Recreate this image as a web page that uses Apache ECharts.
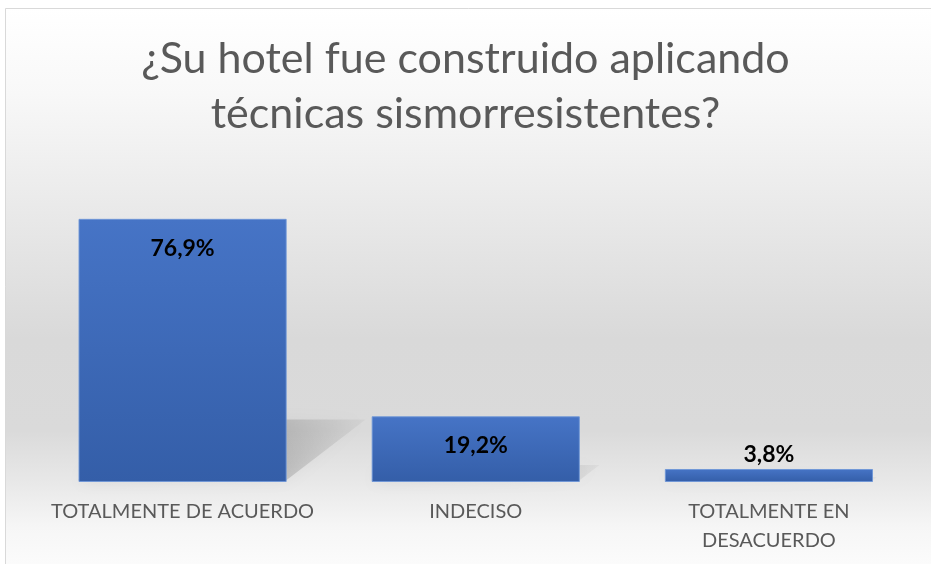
<!DOCTYPE html>
<html>
<head>
<meta charset="utf-8">
<script src="https://cdn.jsdelivr.net/npm/echarts@6/dist/echarts.min.js"></script>
<style>
  html, body { margin: 0; padding: 0; background: #fff; }
  #main { width: 931px; height: 564px; }
</style>
</head>
<body>
<div id="main"></div>
<script>
// data
var categories = ['TOTALMENTE DE ACUERDO', 'INDECISO', 'TOTALMENTE EN\nDESACUERDO'];
var values = [76.9, 19.2, 3.8];
var titleText = '¿Su hotel fue construido aplicando\ntécnicas sismorresistentes?';

var font = 'Lato, "Open Sans", sans-serif';
var grey = '#595959';

function fmt(v) {
    return v.toFixed(1).replace('.', ',') + '%';
}

var chart = echarts.init(document.getElementById('main'));

// label per bar: inside the top when it fits, above the bar otherwise
var barData = values.map(function (v) {
    if (v < 10) {
        return { value: v, label: { position: 'top', distance: 3 } };
    }
    return v;
});

var option = {
    backgroundColor: '#ffffff',
    animation: false,
    graphic: [{
        type: 'rect',
        z: -10,
        silent: true,
        shape: { x: 5.5, y: 8.5, width: 930, height: 570 },
        style: {
            stroke: '#d9d9d9',
            lineWidth: 1,
            fill: new echarts.graphic.LinearGradient(0, 0, 0, 1, [
                { offset: 0, color: '#ffffff' },
                { offset: 0.15, color: '#f8f8f8' },
                { offset: 0.33, color: '#ebebeb' },
                { offset: 0.58, color: '#d9d9d9' },
                { offset: 0.74, color: '#dadada' },
                { offset: 0.83, color: '#e8e8e8' },
                { offset: 0.91, color: '#f6f6f6' },
                { offset: 1, color: '#fdfdfd' }
            ])
        }
    }],
    title: {
        text: titleText,
        left: 'center',
        top: 27,
        textStyle: {
            fontFamily: font,
            fontSize: 43,
            fontWeight: 'normal',
            color: grey,
            lineHeight: 55
        }
    },
    grid: {
        left: 36,
        right: 15.5,
        top: 174,
        bottom: 82,
        containLabel: false
    },
    xAxis: {
        type: 'category',
        data: categories,
        axisLine: { show: false },
        axisTick: { show: false },
        axisLabel: {
            margin: 15,
            color: grey,
            fontFamily: font,
            fontSize: 20,
            lineHeight: 29,
            interval: 0
        }
    },
    yAxis: {
        type: 'value',
        min: 0,
        max: 90,
        show: false,
        splitLine: { show: false }
    },
    series: [{
        // cast shadow behind each bar
        type: 'custom',
        z: 1,
        silent: true,
        data: values.map(function (v, i) { return [i, v]; }),
        renderItem: function (params, api) {
            var base = api.coord([api.value(0), 0]);
            var top = api.coord([api.value(0), api.value(1)]);
            var w = api.size([1, 0])[0] * 0.71;
            var h = base[1] - top[1];
            var xl = base[0] - w / 2, xr = base[0] + w / 2, yb = base[1] - 2;
            var dx = h * 0.3, dy = h * 0.23;
            return {
                type: 'polygon',
                shape: {
                    points: [[xl, yb], [xr, yb], [xr + dx, yb - dy], [xl + dx, yb - dy]]
                },
                style: {
                    fill: new echarts.graphic.LinearGradient(0, 1, 1, 0, [
                        { offset: 0, color: 'rgba(0,0,0,0.3)' },
                        { offset: 0.6, color: 'rgba(0,0,0,0.18)' },
                        { offset: 1, color: 'rgba(0,0,0,0.03)' }
                    ]),
                    shadowBlur: 16,
                    shadowColor: 'rgba(0,0,0,0.3)'
                }
            };
        }
    }, {
        type: 'bar',
        z: 2,
        data: barData,
        barWidth: '71%',
        itemStyle: {
            color: new echarts.graphic.LinearGradient(0, 0, 0, 1, [
                { offset: 0, color: '#4674c6' },
                { offset: 1, color: '#345ea8' }
            ]),
            borderColor: 'rgba(110,150,215,0.9)',
            borderWidth: 1
        },
        label: {
            show: true,
            position: 'insideTop',
            distance: 18,
            color: '#000',
            fontFamily: font,
            fontWeight: 'bold',
            fontSize: 23,
            formatter: function (p) { return fmt(p.value); }
        }
    }]
};

chart.setOption(option);
</script>
</body>
</html>
